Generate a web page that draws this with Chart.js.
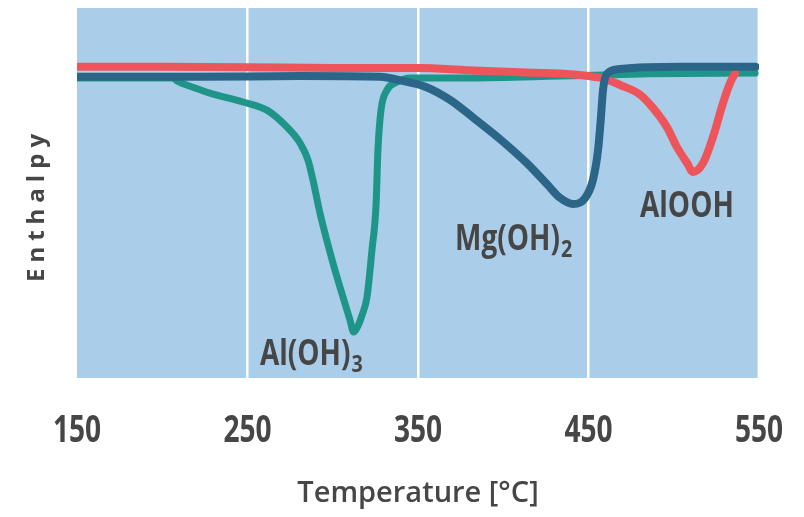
<!DOCTYPE html>
<html>
<head>
<meta charset="utf-8">
<script src="https://cdn.jsdelivr.net/npm/chart.js@4.4.1/dist/chart.umd.min.js"></script>
<style>
  html, body { margin: 0; background: #fff; }
</style>
</head>
<body>
<canvas id="chart" width="804" height="517"></canvas>
<script>
// DSC-style curves (temperature in °C, enthalpy in arbitrary units)
const xTicks = [150, 250, 350, 450, 550];
const plotEnd = 548;

const aloohT = [150, 200, 250, 300, 351, 379, 417, 433, 450, 458.5, 468.5, 480.2, 487.8, 496, 501.9, 507.8, 511.3, 517.2, 523, 528.9, 533, 536];
const aloohE = [84.1, 84.1, 84.0, 83.8, 83.8, 83.2, 82.5, 82.3, 81.6, 81.0, 79.2, 76.6, 73.0, 67.8, 62.4, 58.1, 55.7, 58.1, 65.1, 74.3, 79.7, 82.4];

const mgT = [150, 222, 281, 328, 339, 355, 369, 382, 398, 414, 426, 433, 441, 448, 452.6, 455.6, 457.3, 458.5, 460.8, 468.5, 504, 548];
const mgE = [81.4, 81.4, 81.6, 81.4, 80.5, 78.6, 75.1, 70.5, 64.6, 58.0, 52.2, 48.8, 47.0, 48.6, 53.5, 61.6, 70.5, 77.8, 82.2, 83.5, 84.1, 84.1];

const alT = [150, 206.3, 208.7, 219.2, 228, 247.4, 261.4, 273.2, 280.8, 285.5, 288.4, 292.5, 300.1, 306, 310.1, 312.2, 314.8, 317.2, 320.1, 323, 325.4, 326.5, 328.3, 331.8, 337.7, 345.3, 380.5, 433.3, 486.1, 547.7];
const alE = [81.1, 81.1, 80.3, 78.4, 77.0, 74.6, 72.4, 67.8, 63.5, 58.9, 53.5, 44.6, 31.1, 21.9, 15.7, 12.4, 14.1, 17.0, 21.9, 34.6, 46.8, 61.6, 72.4, 77.8, 80.0, 81.1, 81.1, 81.6, 82.2, 82.4];

const curveLabels = [
  { text: 'Al(OH)', sub: '3', t: 257.3, e: 3.5 },
  { text: 'Mg(OH)', sub: '2', t: 371.7, e: 34.6 },
  { text: 'AlOOH', sub: '', t: 480.2, e: 43.5 },
];

const pts = (xs, ys) => xs.map((x, i) => ({ x, y: ys[i] }));

const FONT = "'Open Sans', 'Liberation Sans', sans-serif";
const INK = '#464646';

// the source uses a condensed face; squeeze Open Sans horizontally
function squeezedText(ctx, str, x, y, sx, align) {
  ctx.save();
  ctx.translate(x, y);
  ctx.scale(sx, 1);
  ctx.textAlign = align;
  ctx.fillText(str, 0, 0);
  const w = ctx.measureText(str).width * sx;
  ctx.restore();
  return w;
}

const plotBg = {
  id: 'plotBg',
  beforeDraw(chart) {
    const { ctx, chartArea: a, scales } = chart;
    const right = scales.x.getPixelForValue(plotEnd) + 2;
    ctx.save();
    ctx.fillStyle = '#aacde9';
    ctx.fillRect(a.left, a.top, right - a.left, a.bottom - a.top);
    ctx.restore();
  },
};

const textLayer = {
  id: 'textLayer',
  afterDraw(chart) {
    const { ctx, scales, chartArea } = chart;
    ctx.save();
    ctx.fillStyle = INK;
    ctx.textBaseline = 'alphabetic';

    // x tick labels
    ctx.font = `bold 37px ${FONT}`;
    xTicks.forEach((v) => {
      squeezedText(ctx, String(v), scales.x.getPixelForValue(v), chartArea.bottom + 64, 0.76, 'center');
    });

    // curve labels with subscripts
    curveLabels.forEach((l) => {
      const x = scales.x.getPixelForValue(l.t);
      const y = scales.y.getPixelForValue(l.e);
      ctx.font = `bold 35px ${FONT}`;
      const w = squeezedText(ctx, l.text, x, y, 0.8, 'left');
      if (l.sub) {
        ctx.font = `bold 24px ${FONT}`;
        squeezedText(ctx, l.sub, x + w + 1, y + 7, 0.82, 'left');
      }
    });

    // rotated y-axis title
    ctx.translate(37, 208);
    ctx.rotate(-Math.PI / 2);
    ctx.font = `bold 24px ${FONT}`;
    ctx.letterSpacing = '6px';
    ctx.textAlign = 'center';
    ctx.textBaseline = 'middle';
    ctx.fillText('Enthalpy', 3, 0);
    ctx.restore();
  },
};

new Chart(document.getElementById('chart'), {
  type: 'line',
  data: {
    datasets: [
      { label: 'Mg(OH)2', data: pts(mgT, mgE), borderColor: '#2b6689', order: 1 },
      { label: 'AlOOH', data: pts(aloohT, aloohE), borderColor: '#ee555b', order: 2 },
      { label: 'Al(OH)3', data: pts(alT, alE), borderColor: '#1f958a', borderWidth: 7, order: 3 },
    ],
  },
  options: {
    responsive: false,
    animation: false,
    layout: { padding: { top: 8, right: 45, bottom: 0, left: 0 } },
    elements: {
      line: { borderWidth: 8, cubicInterpolationMode: 'monotone', borderCapStyle: 'round', borderJoinStyle: 'round' },
      point: { radius: 0 },
    },
    plugins: { legend: { display: false }, tooltip: { enabled: false } },
    scales: {
      x: {
        type: 'linear',
        min: 150,
        max: 550,
        afterBuildTicks: (s) => { s.ticks = xTicks.map((v) => ({ value: v })); },
        afterFit: (s) => { s.height = 139; },
        border: { display: false },
        grid: {
          drawTicks: false,
          lineWidth: 2.5,
          color: (c) => (c.tick && (c.tick.value === 150 || c.tick.value === 550) ? 'rgba(0,0,0,0)' : '#ffffff'),
        },
        ticks: { display: false },
        title: {
          display: true,
          text: 'Temperature [°C]',
          color: INK,
          font: { family: FONT, size: 29, weight: '600', lineHeight: 1 },
          padding: { top: 0, bottom: 9 },
        },
      },
      y: {
        min: 0,
        max: 100,
        afterFit: (s) => { s.width = 77; },
        border: { display: false },
        grid: { display: false },
        ticks: { display: false },
      },
    },
  },
  plugins: [plotBg, textLayer],
});
</script>
</body>
</html>
